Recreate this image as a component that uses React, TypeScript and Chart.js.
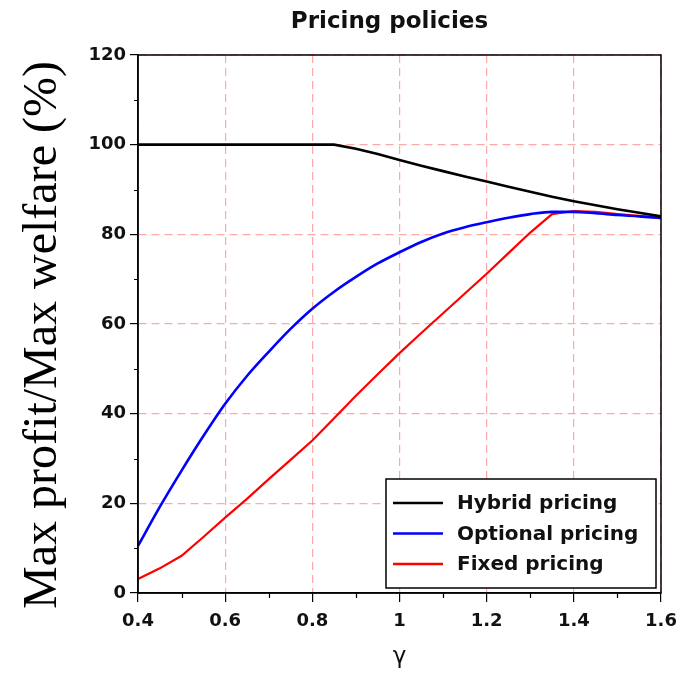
import React, { useEffect, useRef } from "react";
import { Chart, registerables } from "chart.js";

Chart.register(...registerables);

const gamma = [0.4, 0.45, 0.5, 0.55, 0.6, 0.65, 0.7, 0.75, 0.8, 0.85, 0.9, 0.95, 1.0, 1.05, 1.1, 1.15, 1.2, 1.25, 1.3, 1.35, 1.4, 1.45, 1.5, 1.55, 1.6];
const hybrid = [100, 100, 100, 100, 100, 100, 100, 100, 100, 100, 99.1, 97.9, 96.6, 95.3, 94.1, 92.9, 91.8, 90.6, 89.5, 88.4, 87.4, 86.5, 85.6, 84.8, 84];
const optional = [10.5, 19.2, 27.3, 35, 42.2, 48.4, 53.8, 58.9, 63.4, 67.2, 70.5, 73.5, 76, 78.3, 80.2, 81.6, 82.7, 83.7, 84.5, 85, 85, 84.7, 84.3, 84, 83.6];
const fixed = [3.1, 5.5, 8.3, 12.5, 16.8, 21, 25.4, 29.7, 34, 39, 44, 48.8, 53.5, 58, 62.4, 66.8, 71.2, 75.8, 80.4, 84.5, 85.2, 85, 84.5, 84.1, 83.6];

const seriesNames = ["Hybrid pricing", "Optional pricing", "Fixed pricing"];
const seriesColors = ["#000000", "#0000ff", "#ff0000"];
const titleText = "Pricing policies";
const yTitle = "Max profit/Max welfare (%)";
const xTitle = "γ";
const xMinorTicks = [0.5, 0.7, 0.9, 1.1, 1.3, 1.5];
const yMinorTicks = [10, 30, 50, 70, 90, 110];

const SANS = "'DejaVu Sans', sans-serif";

const decorPlugin = {
  id: "decor",
  afterDraw(chart: any) {
    const ctx = chart.ctx;
    const a = chart.chartArea;
    const xs = chart.scales.x;
    const ys = chart.scales.y;
    ctx.save();
    // frame
    ctx.strokeStyle = "#000";
    ctx.lineWidth = 1.5;
    ctx.strokeRect(a.left, a.top, a.right - a.left, a.bottom - a.top);
    // minor ticks
    ctx.lineWidth = 1.2;
    ctx.beginPath();
    xMinorTicks.forEach((v) => {
      const px = Math.round(xs.getPixelForValue(v)) + 0.5;
      ctx.moveTo(px, a.bottom);
      ctx.lineTo(px, a.bottom + 5);
    });
    yMinorTicks.forEach((v) => {
      const py = Math.round(ys.getPixelForValue(v)) + 0.5;
      ctx.moveTo(a.left, py);
      ctx.lineTo(a.left - 4, py);
    });
    ctx.stroke();
    // title
    ctx.fillStyle = "#111";
    ctx.font = `bold 23px ${SANS}`;
    ctx.textAlign = "center";
    ctx.textBaseline = "middle";
    ctx.fillText(titleText, (a.left + a.right) / 2 - 10, 22);
    // x title
    ctx.font = `23px ${SANS}`;
    ctx.fillText(xTitle, (a.left + a.right) / 2, 657);
    // y title
    ctx.save();
    ctx.translate(56, 335);
    ctx.rotate(-Math.PI / 2);
    ctx.font = `48px 'Liberation Serif', 'Times New Roman', serif`;
    ctx.textAlign = "center";
    ctx.textBaseline = "alphabetic";
    ctx.fillStyle = "#000";
    ctx.fillText(yTitle, 0, 0);
    ctx.restore();
    // legend
    const bx = 386, by = 479, bw = 270, bh = 109;
    ctx.fillStyle = "#fff";
    ctx.fillRect(bx, by, bw, bh);
    ctx.strokeStyle = "#000";
    ctx.lineWidth = 1.5;
    ctx.strokeRect(bx, by, bw, bh);
    chart.data.datasets.forEach((ds: any, i: number) => {
      const y = by + 24 + i * 30.5;
      ctx.strokeStyle = ds.borderColor;
      ctx.lineWidth = 2.5;
      ctx.beginPath();
      ctx.moveTo(bx + 7, y);
      ctx.lineTo(bx + 57, y);
      ctx.stroke();
      ctx.fillStyle = "#111";
      ctx.font = `bold 20px ${SANS}`;
      ctx.textAlign = "left";
      ctx.textBaseline = "middle";
      ctx.fillText(ds.label, bx + 71, y + 1);
    });
    ctx.restore();
  },
};

export default function App() {
  const ref = useRef<HTMLCanvasElement>(null);
  useEffect(() => {
    if (!ref.current) return;
    const series = [hybrid, optional, fixed];
    const chart = new Chart(ref.current, {
      type: "line",
      data: {
        datasets: series.map((s, i) => ({
          label: seriesNames[i],
          data: gamma.map((g, j) => ({ x: g, y: s[j] })),
          borderColor: seriesColors[i],
          backgroundColor: seriesColors[i],
          borderWidth: i === 2 ? 2.2 : 2.6,
          pointRadius: 0,
          tension: 0,
          cubicInterpolationMode: i === 1 ? "monotone" : "default",
          fill: false,
        })),
      },
      options: {
        responsive: false,
        animation: false,
        layout: { padding: { top: 55, right: 26, left: 0, bottom: 0 } },
        plugins: { legend: { display: false }, title: { display: false }, tooltip: { enabled: false } },
        scales: {
          x: {
            type: "linear",
            min: 0.4,
            max: 1.6,
            afterFit: (s: any) => { s.height = 80; },
            ticks: {
              stepSize: 0.2,
              padding: 9,
              color: "#111",
              font: { family: SANS, size: 18, weight: "bold" },
              callback: (v: any) => String(Number(Number(v).toFixed(1))),
              maxRotation: 0,
            },
            grid: { color: "rgba(255,110,110,0.6)", lineWidth: 1.2, tickColor: "#000", tickLength: 9, tickWidth: 1.2 },
            border: { color: "#000", width: 1.5, dash: [8, 5] },
          },
          y: {
            min: 0,
            max: 120,
            afterFit: (s: any) => { s.width = 138; },
            ticks: {
              stepSize: 20,
              padding: 4,
              color: "#111",
              font: { family: SANS, size: 18, weight: "bold" },
            },
            grid: { color: "rgba(255,110,110,0.6)", lineWidth: 1.2, tickColor: "#000", tickLength: 8, tickWidth: 1.2 },
            border: { color: "#000", width: 1.5, dash: [8, 5] },
          },
        },
      },
      plugins: [decorPlugin],
    } as any);
    return () => chart.destroy();
  }, []);
  return (
    <canvas
      ref={ref}
      width={687}
      height={673}
      style={{ position: "fixed", left: 0, top: 0, width: 687, height: 673, display: "block", background: "#fff" }}
    />
  );
}
